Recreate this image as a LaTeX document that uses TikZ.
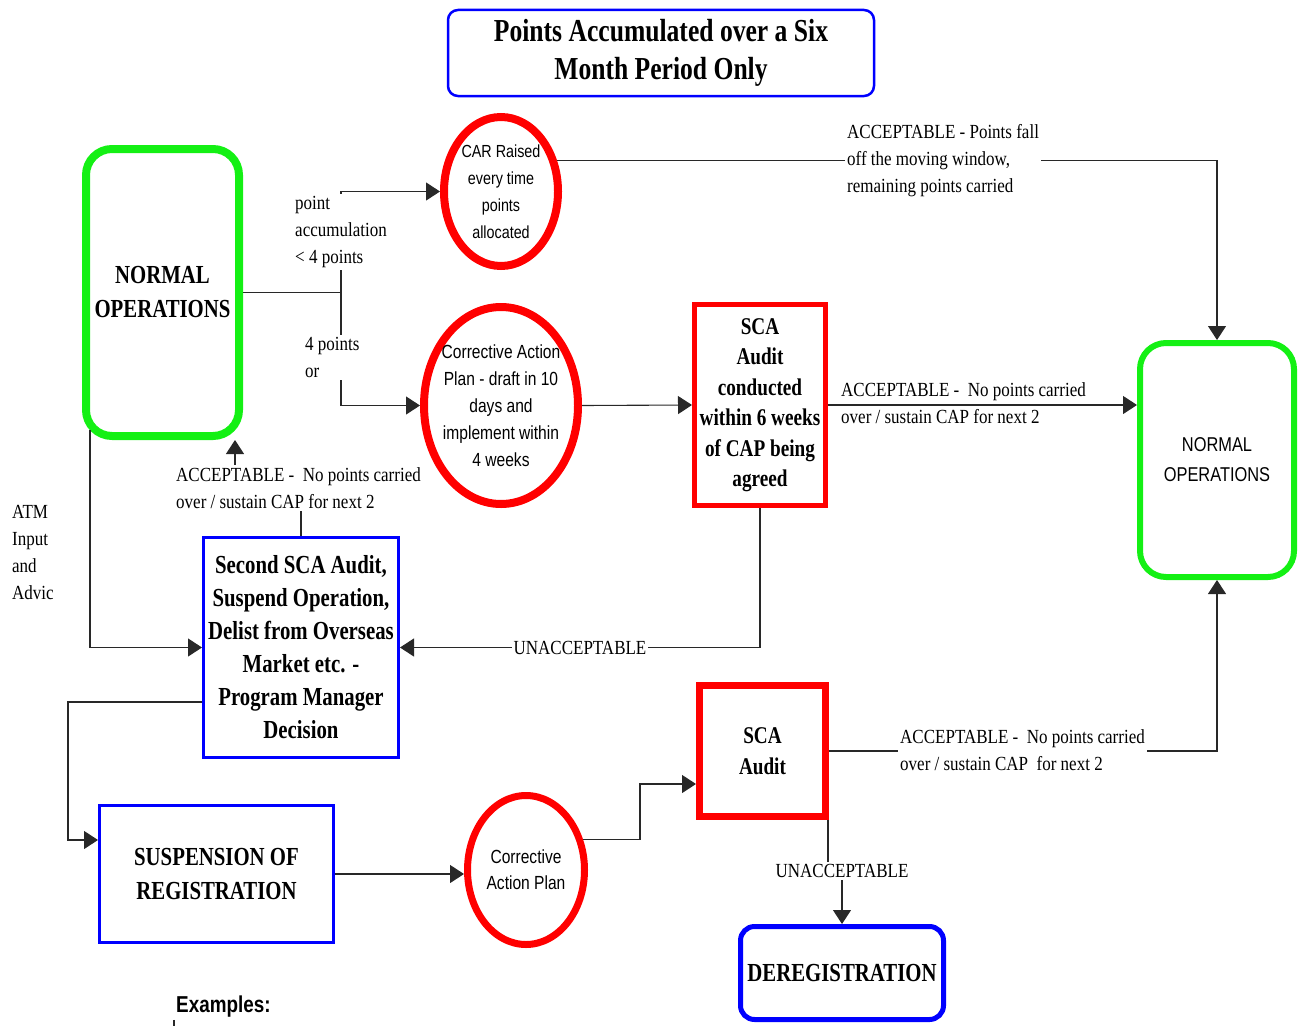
\documentclass[tikz,border=0pt]{standalone}
\usepackage{fontspec}
\setmainfont{Liberation Serif}
\newfontfamily\serifnarrow[FakeStretch=0.85]{Liberation Serif}
\newfontfamily\serifbold[FakeStretch=0.8]{Liberation Serif}
\newfontfamily\sansnarrow[FakeStretch=0.82]{Liberation Sans}
\usepackage{tikz}
\usetikzlibrary{shapes.geometric, arrows.meta, calc}
\definecolor{okgreen}{RGB}{20,240,20}
\definecolor{okred}{RGB}{255,0,0}
\definecolor{okblue}{RGB}{0,0,255}
\definecolor{wirecol}{RGB}{40,40,40}
\tikzstyle{lbl}=[font=\serifnarrow\fontsize{20}{27}\selectfont, align=left, inner sep=2pt]
\tikzstyle{bluebox}=[draw=okblue, rectangle, line width=3pt, align=center, inner sep=0pt, font=\serifbold\bfseries\fontsize{26}{33}\selectfont]
\tikzstyle{redbox}=[draw=okred, rectangle, line width=6pt, align=center, inner sep=0pt, font=\serifbold\bfseries\fontsize{24}{30.5}\selectfont]
\tikzstyle{redell}=[draw=okred, ellipse, line width=8pt, align=center, inner sep=-6pt, font=\sansnarrow\fontsize{19}{27}\selectfont]
\tikzstyle{greenbox}=[draw=okgreen, rectangle, rounded corners=26pt, line width=8pt, align=center, inner sep=0pt]
\tikzstyle{wire}=[draw=wirecol, line width=1.1pt]
\tikzstyle{arr}=[wire, -{Triangle[length=14pt,width=18pt]}]

\begin{document}
\begin{tikzpicture}[x=1pt, y=-1pt]
\useasboundingbox (0,0) rectangle (1306,1025);
\draw (661,53) node[bluebox, line width=2.5pt, rounded corners=10pt, minimum width=426pt, minimum height=86pt, font=\serifbold\bfseries\fontsize{32}{38}\selectfont] (title) {Points Accumulated over a Six\\Month Period Only};
\draw (162.5,292.5) node[greenbox, minimum width=153pt, minimum height=287pt, font=\serifbold\bfseries\fontsize{26}{34}\selectfont] (nol) {NORMAL\\OPERATIONS};
\draw (1217,460) node[greenbox, line width=6pt, minimum width=154pt, minimum height=234pt, font=\sansnarrow\fontsize{20}{30}\selectfont] (nor) {NORMAL\\OPERATIONS};
\draw (501,191.5) node[redell, minimum width=114pt, minimum height=149pt, font=\sansnarrow\fontsize{17.5}{27}\selectfont] (car) {CAR Raised\\every time\\points\\allocated};
\draw (501,405.5) node[redell, minimum width=154pt, minimum height=197pt] (cap) {Corrective Action\\Plan - draft in 10\\days and\\implement within\\4 weeks};
\draw (760,405) node[redbox, line width=5pt, minimum width=131pt, minimum height=201pt] (sca) {SCA\\Audit\\conducted\\within 6 weeks\\of CAP being\\agreed};
\draw (301,647.5) node[bluebox, minimum width=195pt, minimum height=220pt] (sec) {Second SCA Audit,\\Suspend Operation,\\Delist from Overseas\\Market etc. -\\Program Manager\\Decision};
\draw (216.5,874) node[bluebox, minimum width=234pt, minimum height=137pt, font=\serifbold\bfseries\fontsize{26}{34}\selectfont] (sus) {SUSPENSION OF\\REGISTRATION};
\draw (526,870) node[redell, line width=7pt, minimum width=117pt, minimum height=149pt, font=\sansnarrow\fontsize{19}{26}\selectfont] (cap2) {Corrective\\Action Plan};
\draw (762.5,751) node[redbox, line width=7pt, minimum width=126pt, minimum height=131pt, font=\serifbold\bfseries\fontsize{24}{31}\selectfont] (scab) {SCA\\Audit};
\draw (842,973) node[bluebox, line width=5pt, rounded corners=14pt, minimum width=203pt, minimum height=93pt] (dereg) {DEREGISTRATION};

\coordinate (fork) at (341,292.5);
\draw[wire] (nol.east) -- (fork);
\draw[arr] (fork) |- (car.west);
\draw[arr] (fork) |- (cap.west);
\draw[arr] (car.29) -| (nor.north);
\draw[arr] (cap.east) -- (sca.west);
\draw[arr] (sca.east) -- (sca.east -| nor.west);
\draw[arr] (sca.south) |- node[lbl, pos=0.75, fill=white] (unacc) {UNACCEPTABLE} (sec.east);
\coordinate (accup) at (235,487);
\draw[arr] (sec.north) |- (accup) -- (accup |- nol.south);
\draw[arr] ($(nol.south west)+(8,-10)$) |- (sec.west);
\coordinate (secout) at ($(sec.west)+(0,54.5)$);
\coordinate (susin) at ($(sus.west)+(0,-34)$);
\draw[arr] (secout) -| ($(susin)+(-30,0)$) -- (susin);
\draw[arr] (sus.east) -- (sus.east -| cap2.west);
\coordinate (cbend) at (640,784);
\draw[arr] (cap2.28) -| (cbend) -- (cbend -| scab.west);
\draw[arr] (scab.east) -| (nor.south);
\draw[arr] ($(scab.south east)+(-1,0)$) -- ++(0,51) coordinate (ujog) -| (dereg.north);

\draw (293,232) node[lbl, fill=white, anchor=west] (ptacc) {point\\accumulation\\< 4 points};
\draw (303,357.5) node[lbl, fill=white, anchor=west] (fourpts) {4 points\\or};
\draw (845,161) node[lbl, fill=white, anchor=west] (accfall) {ACCEPTABLE - Points fall\\off the moving window,\\remaining points carried};
\draw (839,403.5) node[lbl, anchor=west] (accmid) {ACCEPTABLE -~ No points carried\\over / sustain CAP for next 2};
\draw (174,488) node[lbl, fill=white, anchor=west] (accleft) {ACCEPTABLE -~ No points carried\\over / sustain CAP for next 2};
\draw (898,750) node[lbl, fill=white, anchor=west] (accbot) {ACCEPTABLE -~ No points carried\\over / sustain CAP~ for next 2};
\draw (ujog -| dereg.north) node[lbl, fill=white] (unacc2) {UNACCEPTABLE};
\draw (10,552) node[lbl, anchor=west] (atm) {ATM\\Input\\and\\Advic};
\draw (174,1007) node[anchor=west, inner sep=2pt, font=\sansnarrow\bfseries\fontsize{23}{26}\selectfont] (examples) {Examples:};
\draw[wire] (examples.south west) -- ++(0,12);
\end{tikzpicture}
\end{document}
